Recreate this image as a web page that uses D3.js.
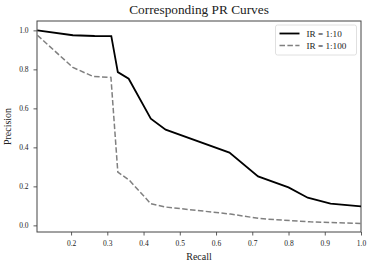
<!DOCTYPE html>
<html>
  <head>
    <meta charset="utf-8">
    <script src="https://cdn.jsdelivr.net/npm/d3@7"></script>
    <style>
        body { margin: 0; background: white; }
        text { font-family: "Liberation Serif", "DejaVu Serif", serif; fill: #222; }
    </style>
  </head>

  <body>
    <div id="my_dataviz"></div>
  </body>

  <script>

    // PR curve values
    let recall10 = [0.107, 0.205, 0.265, 0.311, 0.329, 0.359, 0.420, 0.461, 0.637, 0.716, 0.80, 0.853, 0.916, 1.0];
    let precision10 = [1.0, 0.975, 0.971, 0.970, 0.786, 0.752, 0.547, 0.491, 0.373, 0.251, 0.195, 0.142, 0.111, 0.097];

    let recall100 = [0.107, 0.205, 0.260, 0.310, 0.329, 0.361, 0.420, 0.461, 0.640, 0.720, 0.860, 1.0];
    let precision100 = [0.975, 0.810, 0.764, 0.759, 0.273, 0.231, 0.111, 0.094, 0.058, 0.035, 0.018, 0.010];

    let xTicks = [0.2, 0.3, 0.4, 0.5, 0.6, 0.7, 0.8, 0.9, 1.0];
    let yTicks = [0.0, 0.2, 0.4, 0.6, 0.8, 1.0];
    let seriesNames = ["IR = 1:10", "IR = 1:100"];

    let margin = {top: 21, right: 13, bottom: 32, left: 37},
        width = 374 - margin.left - margin.right,
        height = 264 - margin.top - margin.bottom;

    let svg = d3.select("#my_dataviz")
                .append("svg")
                    .attr("width", 374)
                    .attr("height", 264)
                .append("g")
                    .attr("transform", "translate(" + margin.left + "," + margin.top + ")");

    let x = d3.scaleLinear()
              .domain([0.106, 1.0])
              .range([0, width]);

    let y = d3.scaleLinear()
              .domain([-0.034, 1.048])
              .range([height, 0]);

    let xAxis = svg.append("g")
       .attr("transform", "translate(0," + height + ")")
       .call(d3.axisBottom(x).tickValues(xTicks).tickFormat(d3.format(".1f")).tickSize(3.5).tickPadding(5));

    let yAxis = svg.append("g")
       .call(d3.axisLeft(y).tickValues(yTicks).tickFormat(d3.format(".1f")).tickSize(3.5).tickPadding(5));

    [xAxis, yAxis].forEach(function(a) {
        a.select(".domain").remove();
        a.selectAll("line").attr("stroke", "#333").attr("stroke-width", 0.8);
        a.selectAll("text").style("font-size", "7.5px").style("font-family", "Liberation Serif, serif").attr("fill", "#222");
    });

    // frame
    svg.append("rect")
       .attr("width", width)
       .attr("height", height)
       .attr("fill", "none")
       .attr("stroke", "#444")
       .attr("stroke-width", 1);

    let line = d3.line()
       .x(function(d) { return x(d[0]) })
       .y(function(d) { return y(d[1]) });

    svg.append("path")
       .datum(d3.zip(recall100, precision100))
       .attr("fill", "none")
       .attr("stroke", "#808080")
       .attr("stroke-width", 1.5)
       .attr("stroke-dasharray", "5.5,2.4")
       .attr("d", line);

    svg.append("path")
       .datum(d3.zip(recall10, precision10))
       .attr("fill", "none")
       .attr("stroke", "black")
       .attr("stroke-width", 1.8)
       .attr("d", line);

    // title and labels
    svg.append("text")
       .attr("x", width / 2)
       .attr("y", -7)
       .attr("text-anchor", "middle")
       .style("font-size", "13.3px")
       .text("Corresponding PR Curves");

    svg.append("text")
       .attr("x", width / 2)
       .attr("y", height + 28)
       .attr("text-anchor", "middle")
       .style("font-size", "10px")
       .text("Recall");

    svg.append("text")
       .attr("transform", "translate(" + (-26) + "," + (height / 2) + ") rotate(-90)")
       .attr("text-anchor", "middle")
       .style("font-size", "10px")
       .text("Precision");

    // legend
    let legend = svg.append("g")
       .attr("transform", "translate(" + (width - 85.5) + ",4)");

    legend.append("rect")
       .attr("width", 81)
       .attr("height", 30)
       .attr("rx", 2)
       .attr("fill", "white")
       .attr("stroke", "#d8d8d8")
       .attr("stroke-width", 0.8);

    seriesNames.forEach(function(name, i) {
        let yy = 8.5 + i * 12;
        legend.append("line")
           .attr("x1", 4).attr("x2", 24)
           .attr("y1", yy).attr("y2", yy)
           .attr("stroke", i == 0 ? "black" : "#808080")
           .attr("stroke-width", i == 0 ? 1.8 : 1.5)
           .attr("stroke-dasharray", i == 0 ? null : "5.5,2.4");
        legend.append("text")
           .attr("x", 31)
           .attr("y", yy + 3)
           .style("font-size", "9.2px")
           .text(name);
    });

  </script>

</html>
